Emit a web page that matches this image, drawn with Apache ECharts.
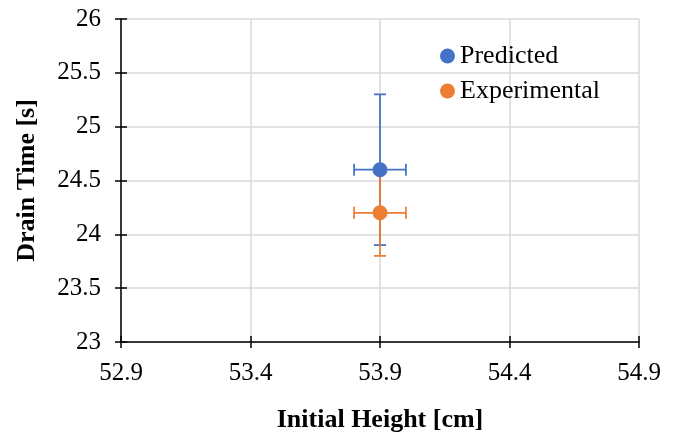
<!DOCTYPE html>
<html>
<head>
<meta charset="utf-8">
<script src="https://cdn.jsdelivr.net/npm/echarts@6/dist/echarts.min.js"></script>
<style>
html, body { margin: 0; padding: 0; background: #fff; }
#chart { width: 676px; height: 432px; }
</style>
</head>
<body>
<div id="chart"></div>
<script>
// values
const seriesNames = ['Predicted', 'Experimental']
const seriesColors = ['#4472C4', '#ED7D31']
const heights = [53.9, 53.9]
const drainTimes = [24.6, 24.2]
const yLow = [23.9, 23.8]
const yHigh = [25.3, 24.6]
const xLow = [53.8, 53.8]
const xHigh = [54.0, 54.0]

const fontFamily = '"Liberation Serif", "Times New Roman", serif'

const chart = echarts.init(document.getElementById('chart'))

// error bars with caps
const errorSeries = (i) => ({
	type: 'custom',
	name: seriesNames[i] + ' err',
	z: 2 + i,
	silent: true,
	data: [[heights[i], drainTimes[i], xLow[i], xHigh[i], yLow[i], yHigh[i]]],
	renderItem: function (params, api) {
		const c = api.coord([api.value(0), api.value(1)])
		const l = api.coord([api.value(2), api.value(1)])
		const r = api.coord([api.value(3), api.value(1)])
		const b = api.coord([api.value(0), api.value(4)])
		const t = api.coord([api.value(0), api.value(5)])
		const cap = 6
		const style = { stroke: seriesColors[i], lineWidth: 1.75 }
		const line = (x1, y1, x2, y2) => ({ type: 'line', shape: { x1, y1, x2, y2 }, style })
		return {
			type: 'group',
			children: [
				line(c[0], b[1], c[0], t[1]),
				line(c[0] - cap, b[1], c[0] + cap, b[1]),
				line(c[0] - cap, t[1], c[0] + cap, t[1]),
				line(l[0], c[1], r[0], c[1]),
				line(l[0], c[1] - cap, l[0], c[1] + cap),
				line(r[0], c[1] - cap, r[0], c[1] + cap)
			]
		}
	}
})

const pointSeries = (i) => ({
	type: 'scatter',
	name: seriesNames[i],
	z: 10 - i,
	symbol: 'circle',
	symbolSize: 15,
	itemStyle: { color: seriesColors[i], opacity: 1 },
	data: [[heights[i], drainTimes[i]]]
})

const axisLineStyle = { color: '#000', width: 1.5 }

const option = {
	animation: false,
	grid: { left: 121, right: 37, top: 19, bottom: 90, outerBoundsMode: 'none', containLabel: false },
	legend: {
		data: seriesNames,
		orient: 'vertical',
		left: 435,
		top: 38,
		itemWidth: 15,
		itemHeight: 15,
		itemGap: 9,
		icon: 'circle',
		textStyle: { fontFamily, fontSize: 26, color: '#000' }
	},
	xAxis: [
		{
			type: 'value',
			min: 52.9,
			max: 54.9,
			interval: 0.5,
			name: 'Initial Height [cm]',
			nameLocation: 'middle',
			nameGap: 65,
			nameTextStyle: { fontFamily, fontSize: 26, fontWeight: 'bold', color: '#000' },
			axisLine: { lineStyle: axisLineStyle },
			axisTick: { show: true, length: 6, lineStyle: axisLineStyle },
			axisLabel: {
				fontFamily, fontSize: 25, color: '#000', margin: 19,
				formatter: (v) => v.toFixed(1)
			},
			splitLine: { show: true, lineStyle: { color: '#d9d9d9', width: 1.5 } }
		},
		{
			type: 'value',
			position: 'bottom',
			min: 52.9,
			max: 54.9,
			interval: 0.5,
			axisLine: { show: false },
			axisTick: { show: true, inside: true, length: 6, lineStyle: axisLineStyle },
			axisLabel: { show: false },
			splitLine: { show: false }
		}
	],
	yAxis: [
		{
			type: 'value',
			min: 23,
			max: 26,
			interval: 0.5,
			name: 'Drain Time [s]',
			nameLocation: 'middle',
			nameGap: 81,
			nameTextStyle: { fontFamily, fontSize: 26, fontWeight: 'bold', color: '#000' },
			axisLine: { show: true, lineStyle: axisLineStyle },
			axisTick: { show: true, length: 6, lineStyle: axisLineStyle },
			axisLabel: { fontFamily, fontSize: 25, color: '#000', margin: 20 },
			splitLine: { show: true, lineStyle: { color: '#d9d9d9', width: 1.5 } }
		},
		{
			type: 'value',
			position: 'left',
			min: 23,
			max: 26,
			interval: 0.5,
			axisLine: { show: false },
			axisTick: { show: true, inside: true, length: 6, lineStyle: axisLineStyle },
			axisLabel: { show: false },
			splitLine: { show: false }
		}
	],
	series: [errorSeries(0), errorSeries(1), pointSeries(1), pointSeries(0)]
}

chart.setOption(option)
</script>
</body>
</html>
